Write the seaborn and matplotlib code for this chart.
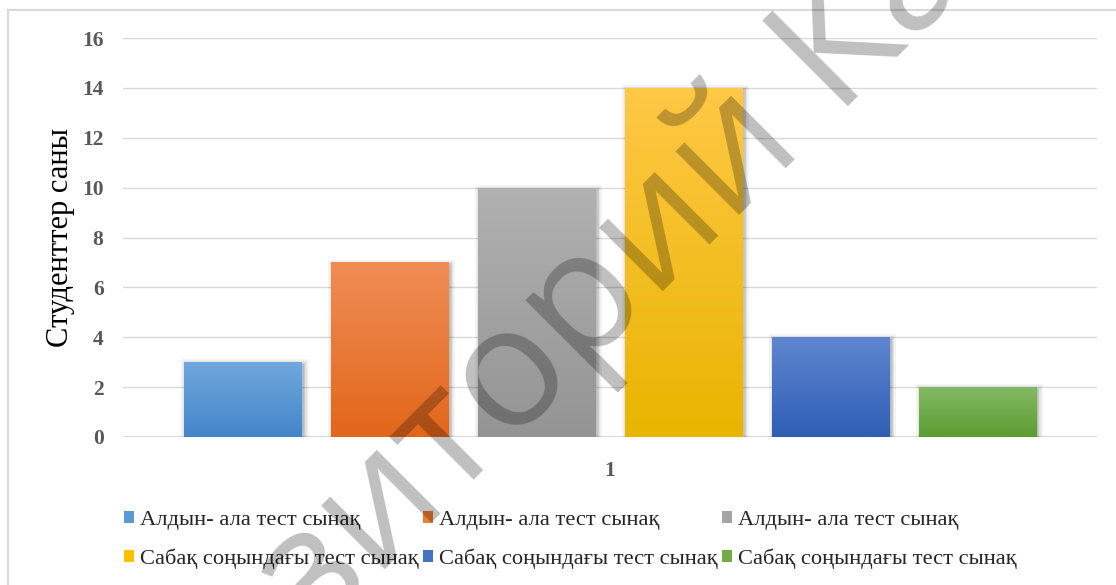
import numpy as np
import pandas as pd
import matplotlib
matplotlib.use("Agg")
import matplotlib.pyplot as plt
import seaborn as sns
from matplotlib.colors import LinearSegmentedColormap
from matplotlib.patches import Patch
from matplotlib.lines import Line2D
from matplotlib.textpath import TextPath
from matplotlib.font_manager import FontProperties
import matplotlib.patheffects as pe

# ---- data ----
group = ["1"] * 6
series = ["pre_a", "pre_b", "pre_c", "post_a", "post_b", "post_c"]
values = [3, 7, 10, 14, 4, 2]
legend_labels = [
    "Алдын- ала тест сынақ",
    "Алдын- ала тест сынақ",
    "Алдын- ала тест сынақ",
    "Сабақ соңындағы тест сынақ",
    "Сабақ соңындағы тест сынақ",
    "Сабақ соңындағы тест сынақ",
]
base_colors = ["#5b9bd5", "#ed7d31", "#a5a5a5", "#ffc000", "#4472c4", "#70ad47"]
grad_top = ["#70a8de", "#f08d56", "#b1b1b1", "#ffc846", "#5f86d0", "#83ba65"]
grad_bottom = ["#4386c8", "#e2661a", "#949494", "#e8b500", "#2e5eb5", "#5c9d31"]
y_ticks = [0, 2, 4, 6, 8, 10, 12, 14, 16]
y_label = "Студенттер саны"
watermark = "Репозиторий КазНУ"

df = pd.DataFrame({"group": group, "series": series, "value": values})

W, H = 1116, 585
sns.set_theme(style="white")
plt.rcParams["font.family"] = ["Liberation Serif", "DejaVu Serif"]

fig = plt.figure(figsize=(W / 100, H / 100), dpi=100)
fig.patch.set_facecolor("white")
ax = fig.add_axes([123 / W, 1 - 437 / H, (1097 - 123) / W, (437 - 38) / H])

sns.barplot(data=df, x="group", y="value", hue="series", hue_order=series,
            palette=base_colors, width=0.905, gap=0.2, legend=False,
            saturation=1, ax=ax, linewidth=0, zorder=3)

# soft drop shadow + vertical gradient for each bar
shadow = [
    pe.Stroke(offset=(1.5, -1.5), linewidth=7, foreground="#000000", alpha=0.05),
    pe.Stroke(offset=(1.5, -1.5), linewidth=4, foreground="#000000", alpha=0.07),
    pe.Stroke(offset=(1.0, -1.0), linewidth=2, foreground="#000000", alpha=0.10),
    pe.Normal(),
]
bars = [p for p in ax.patches]
for i, bar in enumerate(bars):
    bar.set_path_effects(shadow)
    x0, y0 = bar.get_x(), bar.get_y()
    w, h = bar.get_width(), bar.get_height()
    cmap = LinearSegmentedColormap.from_list("g%d" % i, [grad_bottom[i], grad_top[i]])
    grad = np.linspace(0, 1, 256).reshape(-1, 1)
    im = ax.imshow(grad, extent=[x0, x0 + w, y0, y0 + h], origin="lower",
                   aspect="auto", cmap=cmap, zorder=3.5, interpolation="bicubic")
    im.set_clip_path(bar)

ax.set_xlim(-0.5, 0.5)
ax.set_ylim(0, 16)
ax.set_yticks(y_ticks)
ax.yaxis.grid(True, color="#d9d9d9", linewidth=1.0, zorder=0)
ax.xaxis.grid(False)
ax.axhline(0, color="#d9d9d9", linewidth=2.2, zorder=2)
for s in ax.spines.values():
    s.set_visible(False)
ax.tick_params(axis="both", length=0)
ax.tick_params(axis="y", pad=14)
ax.tick_params(axis="x", pad=17)
for lab in ax.get_yticklabels() + ax.get_xticklabels():
    lab.set_color("#595959")
    lab.set_fontsize(15.5)
    lab.set_fontweight("bold")
ax.set_xlabel("")
ax.set_ylabel(y_label, fontsize=22, color="black", labelpad=5)

# legend, row-major over two rows
handles = [Patch(facecolor=c, edgecolor="none") for c in base_colors]
order = [0, 3, 1, 4, 2, 5]
fig.legend([handles[k] for k in order], [legend_labels[k] for k in order],
           ncol=3, loc="upper left", bbox_to_anchor=(124 / W, 1 - 511 / H),
           frameon=False, fontsize=16.2, handlelength=0.45, handleheight=0.45,
           handletextpad=0.25, columnspacing=0.21, labelspacing=0.8,
           borderaxespad=0, borderpad=0)

# outer frame
fig.add_artist(Line2D([8 / W, 8 / W], [0, 1 - 10 / H], color="#d9d9d9", lw=1.5,
                      transform=fig.transFigure))
fig.add_artist(Line2D([8 / W, 1], [1 - 10 / H, 1 - 10 / H], color="#d9d9d9", lw=1.5,
                      transform=fig.transFigure))

# diagonal watermark
wm_size = 122
angle = 45
fp = FontProperties(family="Open Sans", size=wm_size)
pre_w = TextPath((0, 0), "Репози", prop=fp).get_extents().width
t_w = TextPath((0, 0), "т", prop=fp).get_extents().width
d = (pre_w + 0.5 * t_w + 0.12 * wm_size) * 100 / 72
tx, ty = 470, 485
sx = tx - d * np.cos(np.radians(angle))
sy = ty + d * np.sin(np.radians(angle))
fig.text(sx / W, 1 - sy / H, watermark, fontproperties=fp, color="black",
         alpha=0.25, rotation=angle, rotation_mode="anchor", ha="left",
         va="baseline", zorder=10)

fig.savefig("out.png", dpi=100)
